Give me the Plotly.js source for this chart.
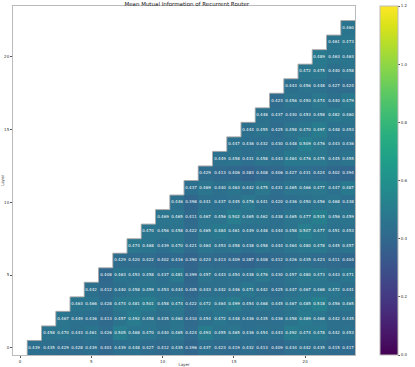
<!DOCTYPE html>
<html lang="en">
<head>
  <meta charset="UTF-8">
  <title>Mean Mutual Information of Recurrent Router</title>
  <script src="https://cdn.plot.ly/plotly-3.0.1.min.js"></script>
  <style>
    html, body { margin: 0; padding: 0; background: #fff; }
    #chart { width: 415px; height: 367px; }
  </style>
</head>
<body>
  <div id="chart"></div>
  <script>
    // layer indices (both axes)
    const layers = Array.from({ length: 24 }, (_, i) => i);

    // row y holds the values for columns x = y+1 .. 23
    const miByLayer = [
      [0.439, 0.435, 0.429, 0.428, 0.439, 0.401, 0.439, 0.448, 0.427, 0.412, 0.435, 0.396, 0.437, 0.423, 0.419, 0.432, 0.413, 0.409, 0.434, 0.442, 0.435, 0.415, 0.417],
      [0.458, 0.470, 0.443, 0.461, 0.426, 0.505, 0.468, 0.470, 0.440, 0.465, 0.424, 0.493, 0.455, 0.465, 0.436, 0.454, 0.443, 0.492, 0.474, 0.478, 0.442, 0.453],
      [0.467, 0.449, 0.436, 0.413, 0.457, 0.492, 0.458, 0.435, 0.460, 0.410, 0.454, 0.472, 0.448, 0.436, 0.435, 0.436, 0.458, 0.489, 0.468, 0.442, 0.435],
      [0.463, 0.466, 0.428, 0.474, 0.481, 0.501, 0.458, 0.474, 0.422, 0.472, 0.464, 0.499, 0.454, 0.468, 0.445, 0.467, 0.485, 0.518, 0.456, 0.465],
      [0.442, 0.412, 0.440, 0.458, 0.459, 0.453, 0.444, 0.405, 0.443, 0.442, 0.446, 0.471, 0.442, 0.425, 0.447, 0.467, 0.468, 0.472, 0.441],
      [0.408, 0.463, 0.453, 0.458, 0.437, 0.481, 0.399, 0.457, 0.443, 0.454, 0.438, 0.476, 0.430, 0.457, 0.480, 0.473, 0.443, 0.471],
      [0.429, 0.420, 0.422, 0.402, 0.416, 0.390, 0.424, 0.413, 0.409, 0.387, 0.408, 0.412, 0.426, 0.435, 0.423, 0.411, 0.404],
      [0.474, 0.468, 0.439, 0.470, 0.421, 0.464, 0.453, 0.458, 0.438, 0.458, 0.444, 0.464, 0.480, 0.478, 0.445, 0.457],
      [0.470, 0.456, 0.458, 0.422, 0.465, 0.484, 0.461, 0.449, 0.448, 0.444, 0.458, 0.507, 0.477, 0.451, 0.453],
      [0.469, 0.465, 0.411, 0.467, 0.456, 0.502, 0.465, 0.462, 0.438, 0.465, 0.477, 0.515, 0.456, 0.459],
      [0.446, 0.398, 0.441, 0.437, 0.445, 0.476, 0.441, 0.420, 0.436, 0.450, 0.456, 0.468, 0.438],
      [0.437, 0.469, 0.440, 0.463, 0.442, 0.475, 0.431, 0.465, 0.466, 0.477, 0.447, 0.487],
      [0.429, 0.413, 0.406, 0.383, 0.408, 0.406, 0.427, 0.431, 0.424, 0.402, 0.394],
      [0.449, 0.458, 0.431, 0.458, 0.443, 0.484, 0.476, 0.475, 0.445, 0.455],
      [0.447, 0.436, 0.432, 0.430, 0.448, 0.509, 0.476, 0.443, 0.436],
      [0.444, 0.455, 0.425, 0.458, 0.470, 0.497, 0.448, 0.453],
      [0.448, 0.437, 0.430, 0.453, 0.458, 0.482, 0.460],
      [0.423, 0.456, 0.450, 0.474, 0.440, 0.479],
      [0.443, 0.456, 0.448, 0.427, 0.424],
      [0.472, 0.475, 0.440, 0.458],
      [0.489, 0.463, 0.463],
      [0.461, 0.473],
      [0.460]
    ];

    const colorTicks = [0.0, 0.2, 0.4, 0.6, 0.8, 1.0, 1.2];

    // full square matrix, lower part masked
    const z = layers.map(y => layers.map(x => {
      const row = miByLayer[y];
      if (!row || x <= y) return null;
      return row[x - y - 1];
    }));
    const txt = z.map(r => r.map(v => v === null ? '' : v.toFixed(3)));

    // staircase edge along the masked region
    const edgeX = [], edgeY = [];
    miByLayer.forEach((row, y) => {
      edgeX.push(y + 0.5, y + 0.5);
      edgeY.push(y - 0.5, y + 0.5);
    });
    edgeX.push(layers.length - 0.5);
    edgeY.push(miByLayer.length - 0.5);

    const heat = {
      type: 'heatmap',
      x: layers,
      y: layers,
      z: z,
      text: txt,
      texttemplate: '%{text}',
      textfont: { family: 'DejaVu Sans', size: 4, color: '#ffffff' },
      colorscale: 'Viridis',
      zmin: 0,
      zmax: 1.2,
      hoverongaps: false,
      colorbar: {
        x: 1.0745,
        xanchor: 'left',
        xpad: 0,
        y: 0,
        yanchor: 'bottom',
        ypad: 0,
        len: 1,
        thickness: 18,
        outlinecolor: '#bbbbbb',
        outlinewidth: 1,
        tickvals: colorTicks,
        ticktext: colorTicks.map(v => v.toFixed(1)),
        ticks: 'outside',
        ticklen: 2,
        tickcolor: '#555',
        tickfont: { family: 'DejaVu Sans', size: 4, color: '#333' }
      }
    };

    const edge = {
      type: 'scatter',
      mode: 'lines',
      x: edgeX,
      y: edgeY,
      line: { color: '#aaaaaa', width: 1 },
      hoverinfo: 'skip',
      showlegend: false
    };

    const axisFont = { family: 'DejaVu Sans', size: 4, color: '#333' };

    const layout = {
      width: 415,
      height: 367,
      margin: { l: 13, r: 53, t: 6, b: 12 },
      paper_bgcolor: '#ffffff',
      plot_bgcolor: '#ffffff',
      showlegend: false,
      title: {
        text: 'Mean Mutual Information of Recurrent Router',
        font: { family: 'DejaVu Sans', size: 5.5, color: '#222' },
        x: 0.45,
        xanchor: 'center',
        y: 0.995,
        yanchor: 'top'
      },
      xaxis: {
        range: [-0.5, 23.5],
        tickvals: [0, 5, 10, 15, 20],
        tickfont: axisFont,
        ticks: 'outside',
        ticklen: 2,
        tickcolor: '#555',
        showgrid: false,
        zeroline: false,
        showline: true,
        mirror: true,
        linecolor: '#bbbbbb',
        linewidth: 1,
        title: { text: 'Layer', font: axisFont, standoff: 0 }
      },
      yaxis: {
        range: [-0.5, 23.5],
        tickvals: [0, 5, 10, 15, 20],
        tickfont: axisFont,
        ticks: 'outside',
        ticklen: 2,
        tickcolor: '#555',
        showgrid: false,
        zeroline: false,
        showline: true,
        mirror: true,
        linecolor: '#bbbbbb',
        linewidth: 1,
        title: { text: 'Layer', font: axisFont, standoff: 0 }
      }
    };

    Plotly.newPlot('chart', [heat, edge], layout, { displayModeBar: false, staticPlot: true });
  </script>
</body>
</html>
